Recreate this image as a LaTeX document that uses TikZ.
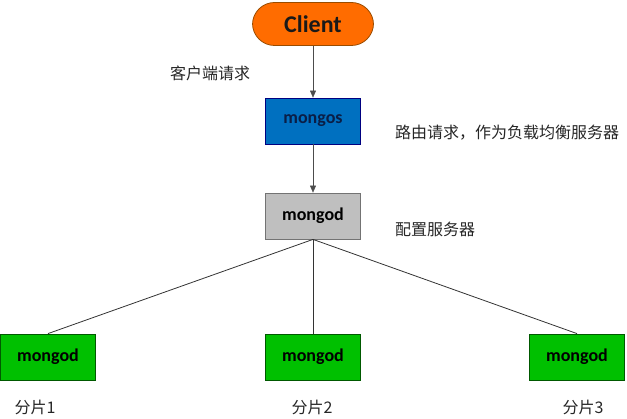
\documentclass[tikz,border=0pt]{standalone}
\usepackage{fontspec}
\setmainfont{Carlito}
\newfontfamily\cjk{Noto Sans CJK SC}
\usetikzlibrary{arrows.meta}

\begin{document}
\begin{tikzpicture}[x=1pt,y=-1pt,
	box/.style={draw,line width=0.8pt,minimum width=95pt,minimum height=46pt,inner sep=0pt,font=\bfseries\fontsize{18}{18}\selectfont},
	note/.style={font=\cjk\fontsize{16}{16}\selectfont,text=black!85,inner sep=0pt}]
	\useasboundingbox (0,0) rectangle (627,419);
	%CLIENT
	\node[draw=orange!60!black,fill=orange!85!red,line width=0.8pt,rounded corners=22pt,minimum width=121pt,minimum height=43pt,inner sep=0pt,font=\bfseries\fontsize{24}{24}\selectfont,text=black!90] (client) at (313,24) {Client};
	%MONGOS et MONGOD
	\node[box,draw=blue!50!black,fill={rgb,255:red,0;green,112;blue,192},text={rgb,255:red,10;green,30;blue,70}] (router) at (313,121) {mongos};
	\node[box,draw=black!55,fill=black!25] (config) at (313,216) {mongod};
	%SHARDS
	\node[box,draw=green!35!black,fill={rgb,255:red,0;green,192;blue,0}] (s1) at (48,357) {mongod};
	\node[box,draw=green!35!black,fill={rgb,255:red,0;green,192;blue,0}] (s2) at (313,357) {mongod};
	\node[box,draw=green!35!black,fill={rgb,255:red,0;green,192;blue,0}] (s3) at (577,357) {mongod};
	%ARROWS
	\draw[-{Triangle[length=7pt,width=6pt]},black!70] (client) -- (router);
	\draw[-{Triangle[length=7pt,width=6pt]},black!70] (router) -- (config);
	\draw[black!80,line width=0.8pt] (config.south) -- (s1.north);
	\draw[black!80,line width=0.8pt] (config.south) -- (s2.north);
	\draw[black!80,line width=0.8pt] (config.south) -- (s3.north);
	%LABELS
	\node[note,anchor=west] (lclient) at (170,73) {客户端请求};
	\node[note,anchor=west] (lrouter) at (395,133) {路由请求，作为负载均衡服务器};
	\node[note,anchor=west] (lconfig) at (395,229) {配置服务器};
	\node[note] (l1) at (35,407) {分片1};
	\node[note] (l2) at (312,407) {分片2};
	\node[note] (l3) at (583,407) {分片3};
\end{tikzpicture}
\end{document}
